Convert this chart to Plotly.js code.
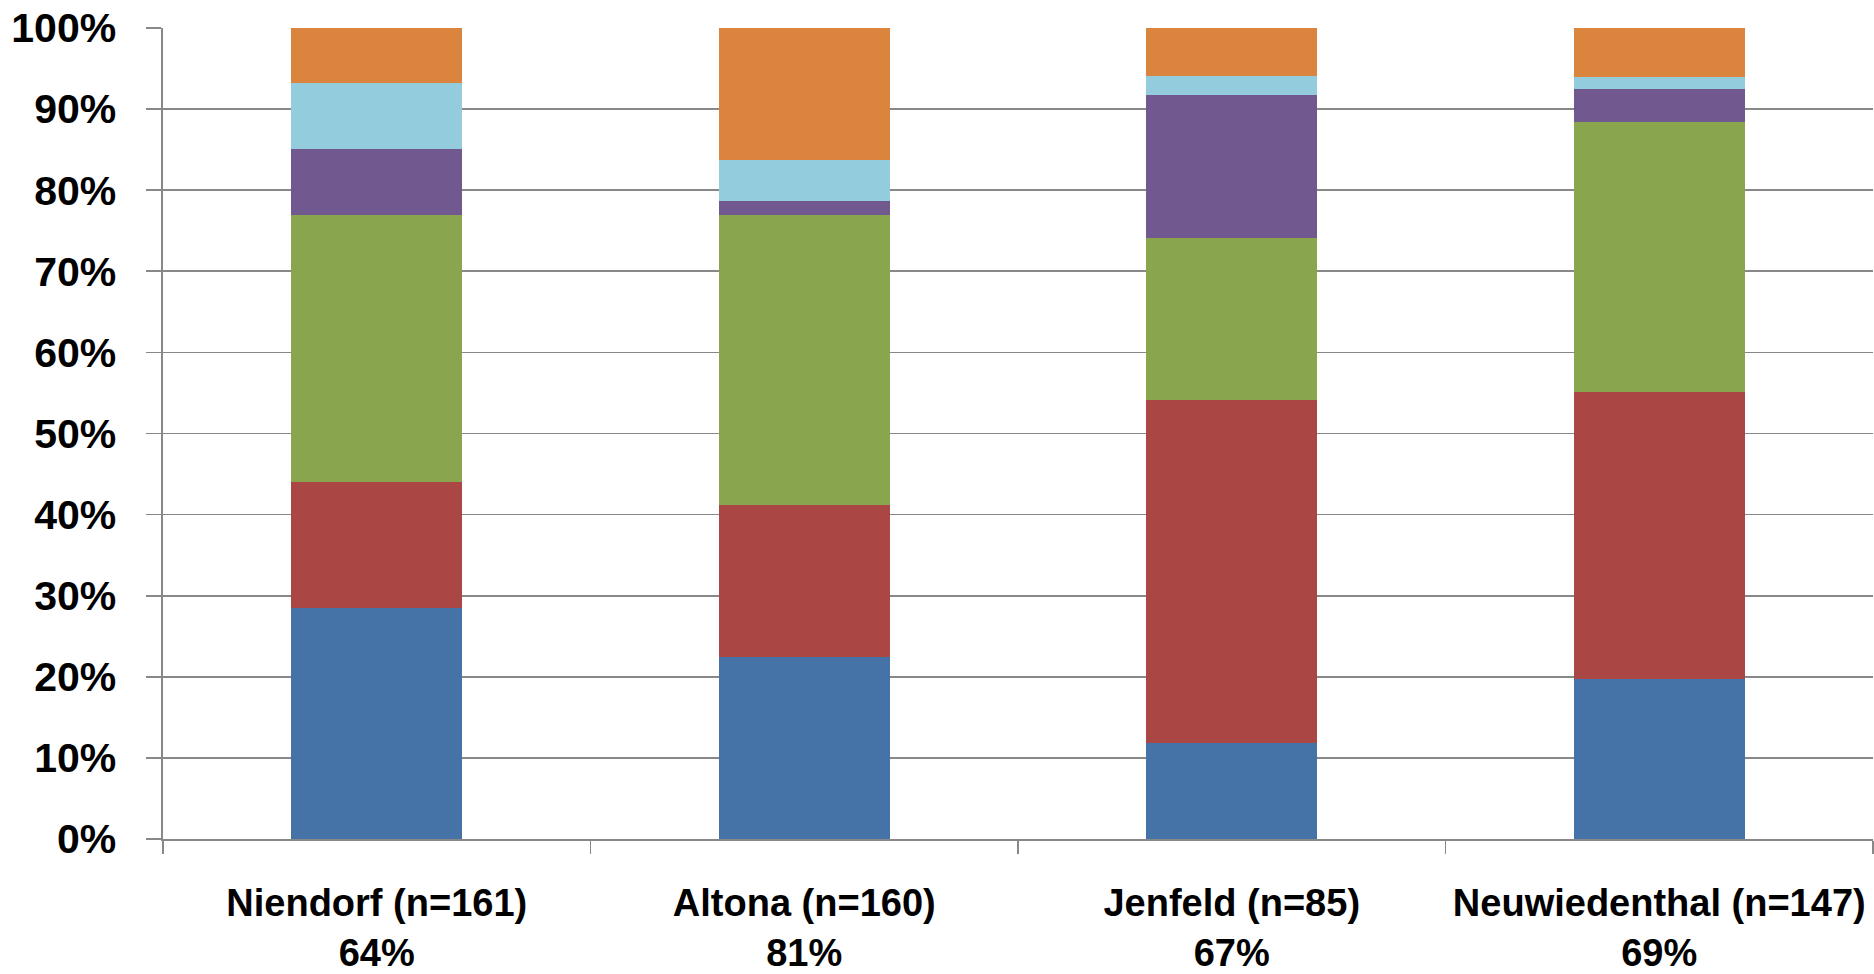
<!DOCTYPE html>
<html>
<head>
<meta charset="utf-8">
<script src="https://cdn.plot.ly/plotly-3.0.1.min.js"></script>
<style>
  html, body { margin: 0; padding: 0; background: #ffffff; }
  #chart { width: 1874px; height: 974px; }
</style>
</head>
<body>
<div id="chart"></div>
<script>
// Stadtteile, Stichprobengröße und Rücklaufquote
const districts = ["Niendorf", "Altona", "Jenfeld", "Neuwiedenthal"];
const sampleSizes = [161, 160, 85, 147];
const responseRates = ["64%", "81%", "67%", "69%"];

// Anteile je Antwortkategorie in Prozent (von unten nach oben gestapelt)
const share1 = [28.5, 22.5, 11.8, 19.7];
const share2 = [15.5, 18.7, 42.3, 35.4];
const share3 = [33.0, 35.7, 20.0, 33.3];
const share4 = [8.1, 1.8, 17.6, 4.1];
const share5 = [8.1, 5.0, 2.4, 1.4];
const share6 = [6.8, 16.3, 5.9, 6.1];

// Y-Achse: Prozentschritte
const yTicks = [0, 10, 20, 30, 40, 50, 60, 70, 80, 90, 100];

const seriesList = [
  { name: "Kategorie 1", values: share1, color: "#4673A7" },
  { name: "Kategorie 2", values: share2, color: "#AA4644" },
  { name: "Kategorie 3", values: share3, color: "#89A54E" },
  { name: "Kategorie 4", values: share4, color: "#71588F" },
  { name: "Kategorie 5", values: share5, color: "#93CDDD" },
  { name: "Kategorie 6", values: share6, color: "#DB843D" }
];

const tickText = districts.map((d, i) =>
  d + " (n=" + sampleSizes[i] + ")<br>" + responseRates[i]);

const traces = seriesList.map(s => ({
  type: "bar",
  name: s.name,
  x: districts,
  y: s.values,
  marker: { color: s.color, line: { width: 0 } },
  hovertemplate: "%{x}: %{y:.1f}%<extra>" + s.name + "</extra>"
}));

const axisGray = "#888888";
const fontFamily = "'Liberation Sans', Arial, sans-serif";

const layout = {
  width: 1874,
  height: 974,
  margin: { l: 163, r: 1, t: 28, b: 135 },
  paper_bgcolor: "#ffffff",
  plot_bgcolor: "#ffffff",
  barmode: "stack",
  bargap: 0.6,
  showlegend: false,
  xaxis: {
    type: "category",
    tickvals: districts,
    ticktext: tickText,
    showgrid: false,
    showline: true,
    linecolor: axisGray,
    linewidth: 1.6,
    ticks: "outside",
    tickson: "boundaries",
    ticklen: 13,
    tickwidth: 1.6,
    tickcolor: axisGray,
    ticklabelstandoff: 30,
    tickfont: { family: fontFamily, size: 38, color: "#000000", weight: "bold" },
    zeroline: false,
    fixedrange: true
  },
  yaxis: {
    range: [0, 100],
    tickvals: yTicks,
    ticktext: yTicks.map(v => v + "%"),
    showgrid: true,
    gridcolor: axisGray,
    gridwidth: 1.6,
    showline: true,
    linecolor: axisGray,
    linewidth: 1.6,
    ticks: "outside",
    ticklen: 15,
    tickwidth: 1.6,
    tickcolor: axisGray,
    ticklabelstandoff: 22,
    tickfont: { family: fontFamily, size: 41, color: "#000000", weight: "bold" },
    zeroline: false,
    fixedrange: true
  }
};

Plotly.newPlot("chart", traces, layout, { displayModeBar: false, staticPlot: true });
</script>
</body>
</html>
